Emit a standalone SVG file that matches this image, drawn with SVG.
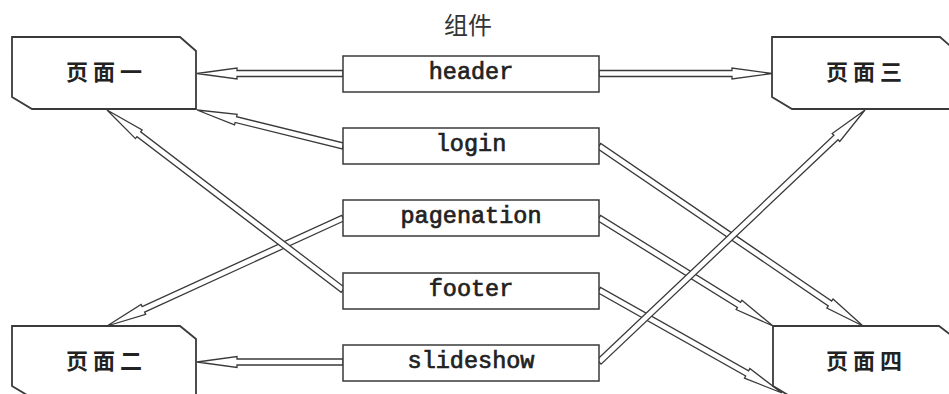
<svg xmlns="http://www.w3.org/2000/svg" width="949" height="394" viewBox="0 0 949 394">
<style>
.page{fill:#fff;stroke:#3a3a3a;stroke-width:1.8}
.comp{fill:#fff;stroke:#3a3a3a;stroke-width:1.5}
.pt{font-family:"Noto Sans CJK SC","Noto Sans CJK JP",sans-serif;font-size:22px;font-weight:bold;fill:#222;text-anchor:middle;letter-spacing:5px}
.ct{font-family:"Liberation Mono","DejaVu Sans Mono",monospace;font-size:23.5px;font-weight:normal;fill:#222;stroke:#222;stroke-width:0.7;text-anchor:middle}
.title{font-family:"Noto Sans CJK SC","Noto Sans CJK JP",sans-serif;font-size:24px;fill:#333;text-anchor:middle}
.arr{fill:#fff;stroke:#3a3a3a;stroke-width:1.3;stroke-linejoin:miter}
</style>
<rect width="949" height="394" fill="#fff"/>
<text class="title" x="468" y="34">组件</text>
<g id="connectors">
<path class="arr" transform="translate(197,73.5) rotate(0)" d="M0,0 L40,-5.5 L40,-3 L146,-3 L146,3 L40,3 L40,5.5 Z"/>
<path class="arr" transform="translate(772,73.5) rotate(180)" d="M0,0 L40,-5.5 L40,-3 L173,-3 L173,3 L40,3 L40,5.5 Z"/>
<path class="arr" transform="translate(197,110) rotate(13.85)" d="M0,0 L40,-5.5 L40,-3 L150.4,-3 L150.4,3 L40,3 L40,5.5 Z"/>
<path class="arr" transform="translate(863,326) rotate(214.29)" d="M0,0 L40,-5.5 L40,-3 L319.5,-3 L319.5,3 L40,3 L40,5.5 Z"/>
<path class="arr" transform="translate(773,326) rotate(211.83)" d="M0,0 L40,-5.5 L40,-3 L204.8,-3 L204.8,3 L40,3 L40,5.5 Z"/>
<path class="arr" transform="translate(107,326) rotate(-24.59)" d="M0,0 L40,-5.5 L40,-3 L259.5,-3 L259.5,3 L40,3 L40,5.5 Z"/>
<path class="arr" transform="translate(107,110) rotate(37.33)" d="M0,0 L40,-5.5 L40,-3 L296.8,-3 L296.8,3 L40,3 L40,5.5 Z"/>
<path class="arr" transform="translate(782,393) rotate(209.37)" d="M0,0 L40,-5.5 L40,-3 L210,-3 L210,3 L40,3 L40,5.5 Z"/>
<path class="arr" transform="translate(197,362) rotate(0)" d="M0,0 L40,-5.5 L40,-3 L146,-3 L146,3 L40,3 L40,5.5 Z"/>
<path class="arr" transform="translate(865,110) rotate(136.55)" d="M0,0 L40,-5.5 L40,-3 L366.4,-3 L366.4,3 L40,3 L40,5.5 Z"/>
</g>
<g id="page1">
<path class="page" d="M12,37 L180,37 L196,51 L196,109 L32,109 L12,97 Z"/>
<text class="pt" x="106.5" y="80">页面一</text>
</g>
<g id="page3">
<path class="page" d="M772,37 L940,37 L956,51 L956,109 L792,109 L772,97 Z"/>
<text class="pt" x="866.5" y="80">页面三</text>
</g>
<g id="page2">
<path class="page" d="M12,326 L180,326 L196,339 L196,398 L32,398 L12,386 Z"/>
<text class="pt" x="106.5" y="369">页面二</text>
</g>
<g id="page4">
<path class="page" d="M773,326 L939,326 L956,339 L956,398 L793,398 L773,386 Z"/>
<text class="pt" x="866.5" y="369">页面四</text>
</g>
<g id="header"><rect class="comp" x="343" y="56" width="256" height="36"/><text class="ct" x="471" y="79">header</text></g>
<g id="login"><rect class="comp" x="343" y="128" width="256" height="36"/><text class="ct" x="471" y="151">login</text></g>
<g id="pagenation"><rect class="comp" x="343" y="200" width="256" height="36"/><text class="ct" x="471" y="223">pagenation</text></g>
<g id="footer"><rect class="comp" x="343" y="273" width="256" height="36"/><text class="ct" x="471" y="296">footer</text></g>
<g id="slideshow"><rect class="comp" x="343" y="345" width="256" height="36"/><text class="ct" x="471" y="368">slideshow</text></g>
</svg>
